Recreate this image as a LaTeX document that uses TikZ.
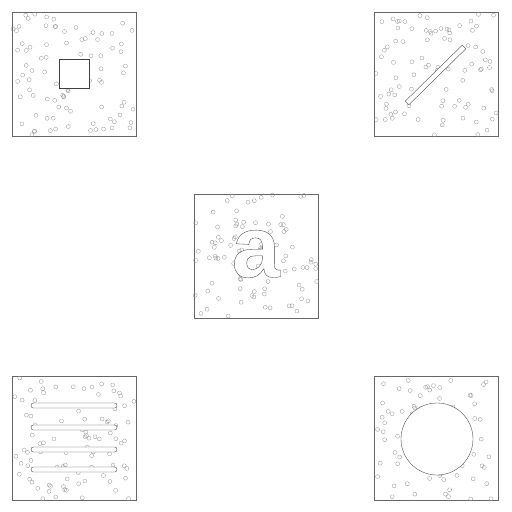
\documentclass[tikz,border=0pt]{standalone}
\usepackage{fontspec}
\newfontfamily\glyphfont{Liberation Sans}
\begin{document}
\begin{tikzpicture}[x=0.5mm, y=-0.5mm,
    panel/.style={draw=black!60, line width=0.5pt, minimum size=62mm, inner sep=0pt},
    speck/.style={draw=black!45, line width=0.4pt},
    blob/.style={draw=black!75, fill=white, line width=0.5pt}]
\useasboundingbox (0,0) rectangle (512,512);
\pgfmathsetseed{7}
% frames
\node[panel] (sq) at (74,74) {};
\node[panel] (bar) at (436,74) {};
\node[panel] (let) at (256,256) {};
\node[panel] (lines) at (74,438) {};
\node[panel] (disc) at (436,438) {};
% noise
\foreach \cx/\cy in {74/74, 436/74, 256/256, 74/438, 436/438}
  \foreach \i in {1,...,90}
    \draw[speck] (\cx-61+122*rnd, \cy-61+122*rnd) circle[radius=1mm];
% shapes
\draw[blob] (59,59) rectangle (89,88);
\draw[blob] (405.2,101.2) -- (408.8,104.8) -- (465.8,48.8) -- (462.2,45.2) -- cycle;
\node[inner sep=0pt, text=black!75] (glyph) at (256,254)
  {\glyphfont\bfseries\fontsize{124}{124}\selectfont\special{pdf:literal direct 2 Tr 1 g 0.5 w}a\special{pdf:literal direct 0 Tr}};
\foreach \y in {403,425,447,467}
  \draw[blob, rounded corners=1.2mm] (31,\y) rectangle (117,\y+5);
\draw[blob] (437,439) circle[radius=18mm];
\end{tikzpicture}
\end{document}
